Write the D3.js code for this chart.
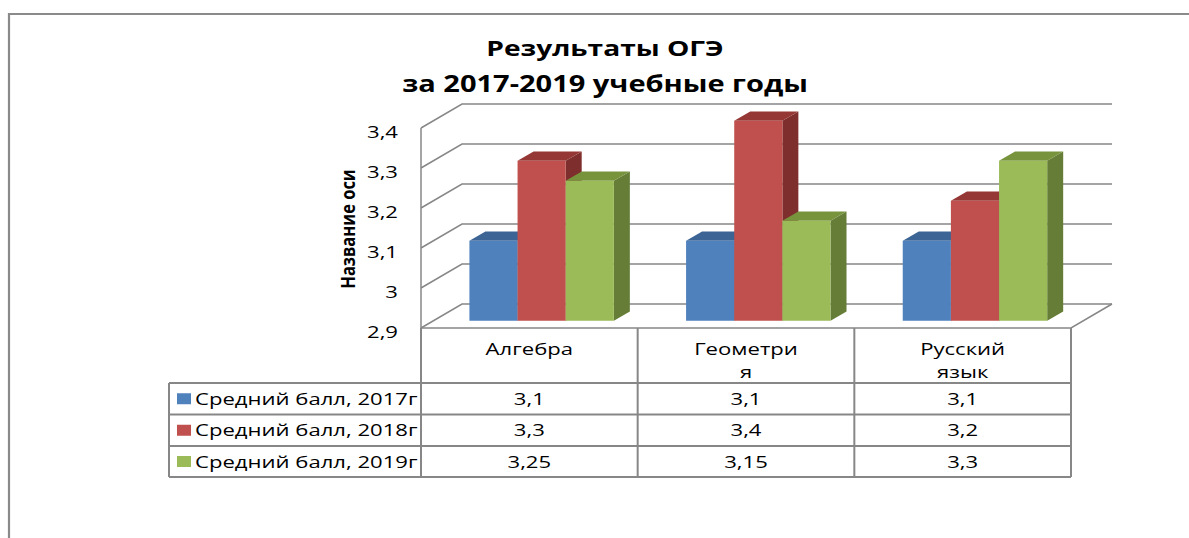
<!DOCTYPE html>
<html><head><meta charset="utf-8">
<script src="https://cdn.jsdelivr.net/npm/d3@7"></script>
<style>
html,body{margin:0;padding:0;background:#fff;}
svg{display:block;}
text{font-family:"Open Sans","Noto Sans",sans-serif;fill:#000;}
</style></head>
<body>
<svg id="chart" width="1189" height="538"></svg>
<script>
// ---- data ----
const categories = ["Алгебра", "Геометрия", "Русский язык"];
const categoryLines = [["Алгебра"], ["Геометри", "я"], ["Русский", "язык"]];
const seriesNames = ["Средний балл, 2017г", "Средний балл, 2018г", "Средний балл, 2019г"];
const values2017 = [3.1, 3.1, 3.1];
const values2018 = [3.3, 3.4, 3.2];
const values2019 = [3.25, 3.15, 3.3];
const valueLabels2017 = ["3,1", "3,1", "3,1"];
const valueLabels2018 = ["3,3", "3,4", "3,2"];
const valueLabels2019 = ["3,25", "3,15", "3,3"];
const yTicks = [2.9, 3.0, 3.1, 3.2, 3.3, 3.4];
const yTickLabels = ["2,9", "3", "3,1", "3,2", "3,3", "3,4"];
const titleLines = ["Результаты ОГЭ", "за 2017-2019 учебные годы"];
const yAxisTitle = "Название оси";

const seriesValues = [values2017, values2018, values2019];
const seriesLabels = [valueLabels2017, valueLabels2018, valueLabels2019];
const colors = [
  {front:"#4F81BD", top:"#3C6595", side:"#375D8A"},
  {front:"#C0504D", top:"#953735", side:"#7E2F2D"},
  {front:"#9BBB59", top:"#77933C", side:"#657D37"}
];

// ---- layout ----
const svg = d3.select("#chart");
const SX = 1.3;               // horizontal text stretch of the original picture
const gridColor = "#878787";
const frontLeft = 421, frontRight = 1071, floorY = 328, topY = 128;
const DX = 41, DY = -24;      // full depth offset
const t1 = 0.3, t2 = 0.69;    // bar front/back depth fractions

const x0 = d3.scaleBand().domain(categories).range([frontLeft, frontRight]).padding(0);
const x1 = d3.scaleBand().domain(seriesNames).range([0, x0.bandwidth()]).paddingInner(0).paddingOuter(0.75);
const y = d3.scaleLinear().domain([2.9, 3.4]).range([floorY, topY]);
const P = (px, py, t) => [px + t * DX, py + t * DY];
const poly = pts => "M" + pts.map(p => p.join(",")).join("L") + "Z";

function txt(g, x, yy, s, o = {}) {
  const t = g.append("text")
    .attr("transform", `translate(${x},${yy}) scale(${o.sx || SX},1)`)
    .attr("text-anchor", o.anchor || "middle")
    .style("font-size", (o.size || 17) + "px")
    .style("font-weight", o.weight || "normal")
    .text(s);
  return t;
}

// outer frame
svg.append("path").attr("d", "M9,538 L9,14 L1189,14")
  .attr("fill", "none").attr("stroke", "#8a8a8a").attr("stroke-width", 2.2);

// title
txt(svg, 605, 56, titleLines[0], {size: 22, weight: 700, sx: 1.28});
txt(svg, 605, 92, titleLines[1], {size: 22.5, weight: 700, sx: 1.29});

// walls & gridlines
const grid = svg.append("g").attr("fill", "none").attr("stroke", gridColor).attr("stroke-width", 1.5);
yTicks.forEach(v => {
  const a = P(frontLeft, y(v), 0), b = P(frontLeft, y(v), 1), c = P(frontRight, y(v), 1);
  grid.append("path").attr("d", `M${a}L${b}L${c}`);
});
// left wall front edge
grid.append("line").attr("x1", frontLeft).attr("x2", frontLeft).attr("y1", y(3.4)).attr("y2", floorY);
// floor right diagonal and front edge
{
  const a = P(frontRight, floorY, 0), b = P(frontRight, floorY, 1);
  grid.append("path").attr("d", `M${frontLeft},${floorY}L${a}L${b}`);
}

// y tick labels
yTicks.forEach((v, i) => {
  txt(svg, 398, y(v) + 10, yTickLabels[i], {size: 17, anchor: "end", sx: 1.3});
});
// axis title
svg.append("text")
  .attr("transform", `translate(355,229) rotate(-90) scale(1,1.2)`)
  .attr("text-anchor", "middle")
  .style("font-size", "16.5px").style("font-weight", 700)
  .style("font-family", "'Liberation Sans Narrow','Open Sans',sans-serif")
  .text(yAxisTitle);

// bars
const bars = svg.append("g");
categories.forEach((cat, ci) => {
  seriesNames.forEach((sn, si) => {
    const v = seriesValues[si][ci];
    const xa = x0(cat) + x1(sn), xb = xa + x1.bandwidth();
    const yt = y(v), yb = y(2.9);
    const c = colors[si];
    bars.append("path").attr("fill", c.side)
      .attr("d", poly([P(xb, yt, t1), P(xb, yt, t2), P(xb, yb, t2), P(xb, yb, t1)]));
    bars.append("path").attr("fill", c.top)
      .attr("d", poly([P(xa, yt, t1), P(xb, yt, t1), P(xb, yt, t2), P(xa, yt, t2)]));
    bars.append("path").attr("fill", c.front)
      .attr("d", poly([P(xa, yt, t1), P(xb, yt, t1), P(xb, yb, t1), P(xa, yb, t1)]));
  });
});

// data table
const legendLeft = 169;
const rowY = [383, 414.5, 446, 477];
const tbl = svg.append("g").attr("stroke", gridColor).attr("stroke-width", 2).attr("fill", "none");
const colEdges = categories.map(c => x0(c)).concat([frontRight]);
colEdges.forEach(xx => tbl.append("line").attr("x1", xx).attr("x2", xx).attr("y1", floorY).attr("y2", rowY[3]));
tbl.append("line").attr("x1", legendLeft).attr("x2", legendLeft).attr("y1", rowY[0]).attr("y2", rowY[3]);
rowY.forEach(yy => tbl.append("line").attr("x1", legendLeft).attr("x2", frontRight).attr("y1", yy).attr("y2", yy));

// category headers
categoryLines.forEach((lines, ci) => {
  const cx = x0(categories[ci]) + x0.bandwidth() / 2;
  lines.forEach((l, li) => txt(svg, cx, 355 + li * 23, l, {size: 17}));
});

// legend rows + values
seriesNames.forEach((sn, si) => {
  const cy = (rowY[si] + rowY[si + 1]) / 2;
  svg.append("rect").attr("x", 177).attr("y", cy - 5.5).attr("width", 14).attr("height", 11)
    .attr("fill", colors[si].front);
  txt(svg, 195, cy + 6, sn, {size: 17, anchor: "start"});
  categories.forEach((cat, ci) => {
    txt(svg, x0(cat) + x0.bandwidth() / 2, cy + 6, seriesLabels[si][ci], {size: 17});
  });
});
</script>
</body></html>
